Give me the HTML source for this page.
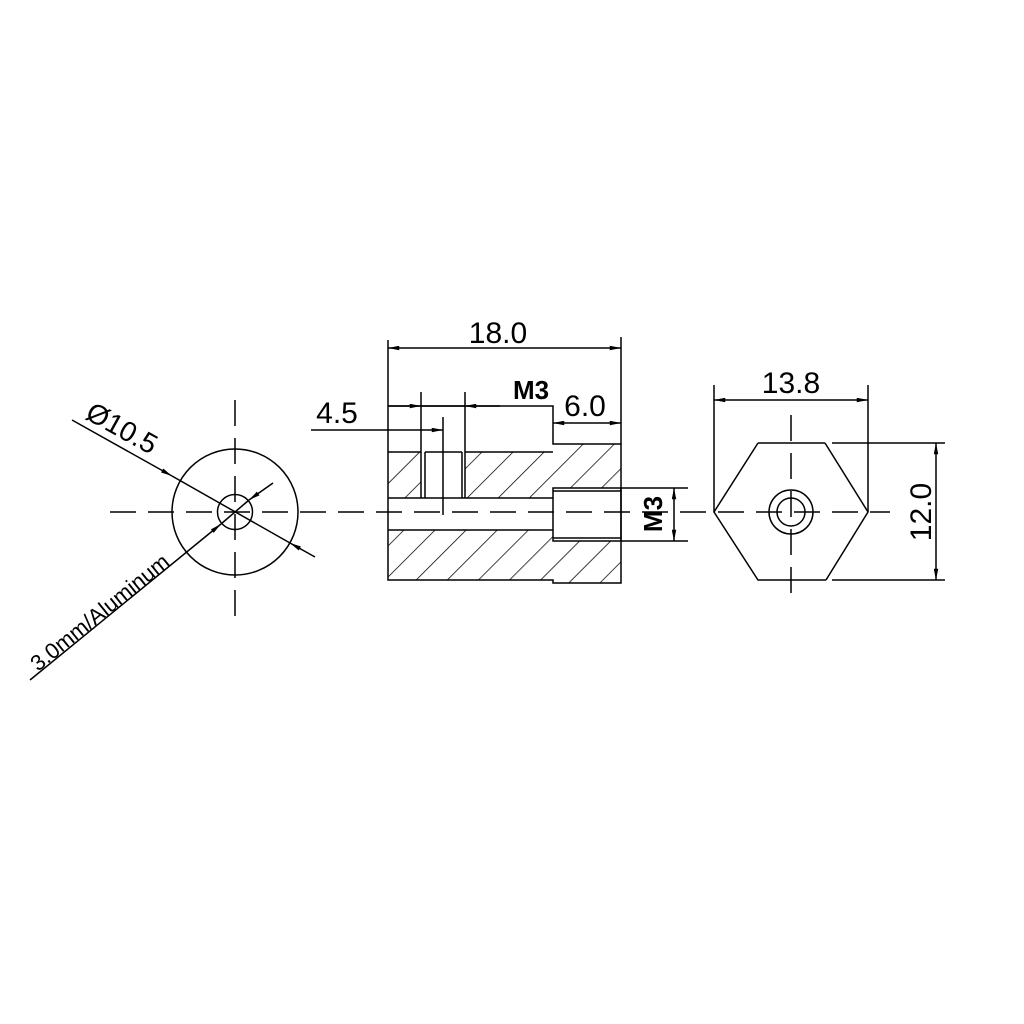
<!DOCTYPE html>
<html><head><style>html,body{margin:0;padding:0;background:#fff}svg{display:block}</style></head>
<body>
<svg width="1024" height="1024" viewBox="0 0 1024 1024" xmlns="http://www.w3.org/2000/svg" font-family="Liberation Sans, DejaVu Sans, sans-serif">
<defs>
<pattern id="h" patternUnits="userSpaceOnUse" width="22" height="22" patternTransform="rotate(45)">
<line x1="0" y1="0" x2="0" y2="22" stroke="#000" stroke-width="1.5"/>
</pattern>
<marker id="a" viewBox="0 0 10 4" refX="10" refY="2" markerWidth="12" markerHeight="4.5" orient="auto" markerUnits="userSpaceOnUse"><path d="M0,0L10,2L0,4z" fill="#000"/></marker>
</defs>
<g stroke="#000" stroke-width="1.5" fill="none">
<line x1="110" y1="512" x2="890" y2="512" stroke-dasharray="26,12"/>
<circle cx="235" cy="512" r="63"/>
<circle cx="235" cy="512" r="17.5"/>
<line x1="235" y1="400" x2="235" y2="622" stroke-dasharray="26,12"/>
<line x1="72" y1="420" x2="172" y2="476" marker-end="url(#a)"/>
<line x1="172" y1="476" x2="290" y2="543"/>
<line x1="315" y1="557" x2="290" y2="543" marker-end="url(#a)"/>
<line x1="30" y1="680" x2="221" y2="524" marker-end="url(#a)"/>
<line x1="221" y1="524" x2="249" y2="500"/>
<line x1="273" y1="483" x2="249" y2="500" marker-end="url(#a)"/>
<path d="M388,452H421V498H388Z M465,452H553V444H621V488H553V498H465Z M388,530H553V541H621V583H553V580H388Z" fill="url(#h)" stroke="none"/>
<path d="M388,340V580H553V583H621V444H553V406H388"/>
<line x1="621" y1="337" x2="621" y2="444"/>
<line x1="388" y1="452" x2="421" y2="452"/>
<line x1="465" y1="452" x2="553" y2="452"/>
<line x1="425" y1="452" x2="462" y2="452"/>
<line x1="388" y1="498" x2="553" y2="498"/>
<line x1="388" y1="530" x2="553" y2="530"/>
<rect x="553" y="488" width="68" height="53"/>
<line x1="553" y1="491" x2="621" y2="491"/>
<line x1="553" y1="538" x2="621" y2="538"/>
<line x1="421" y1="392" x2="421" y2="498"/>
<line x1="425" y1="452" x2="425" y2="498"/>
<line x1="462" y1="452" x2="462" y2="498"/>
<line x1="465" y1="392" x2="465" y2="498"/>
<line x1="443" y1="417" x2="443" y2="515"/>
<line x1="500" y1="348" x2="388" y2="348" marker-end="url(#a)"/>
<line x1="500" y1="348" x2="621" y2="348" marker-end="url(#a)"/>
<line x1="388" y1="406" x2="421" y2="406" marker-end="url(#a)"/>
<line x1="421" y1="406" x2="465" y2="406"/>
<line x1="500" y1="406" x2="465" y2="406" marker-end="url(#a)"/>
<line x1="311" y1="430" x2="443" y2="430" marker-end="url(#a)"/>
<line x1="587" y1="423" x2="553" y2="423" marker-end="url(#a)"/>
<line x1="587" y1="423" x2="621" y2="423" marker-end="url(#a)"/>
<line x1="621" y1="488" x2="688" y2="488"/>
<line x1="621" y1="541" x2="688" y2="541"/>
<line x1="674" y1="514" x2="674" y2="488" marker-end="url(#a)"/>
<line x1="674" y1="514" x2="674" y2="541" marker-end="url(#a)"/>
<path d="M758,443H825 M832,443H945 M758,443L714,512L758,580H826 M832,580H945 M825,443L868,512L826,580"/>
<line x1="714" y1="385" x2="714" y2="512"/>
<line x1="868" y1="385" x2="868" y2="512"/>
<line x1="791" y1="400" x2="714" y2="400" marker-end="url(#a)"/>
<line x1="791" y1="400" x2="868" y2="400" marker-end="url(#a)"/>
<line x1="936" y1="512" x2="936" y2="443" marker-end="url(#a)"/>
<line x1="936" y1="512" x2="936" y2="580" marker-end="url(#a)"/>
<circle cx="791" cy="512" r="22"/>
<circle cx="791" cy="512" r="14"/>
<line x1="791" y1="415" x2="791" y2="605" stroke-dasharray="26,12"/>
</g>
<g fill="#000" font-size="30">
<text x="498" y="343" text-anchor="middle">18.0</text>
<text x="337" y="423" text-anchor="middle">4.5</text>
<text x="531" y="399" text-anchor="middle" font-weight="bold" font-size="26">M3</text>
<text x="585" y="416" text-anchor="middle">6.0</text>
<text x="791" y="393" text-anchor="middle">13.8</text>
<text transform="translate(931,512) rotate(-90)" text-anchor="middle">12.0</text>
<text transform="translate(662,514) rotate(-90)" text-anchor="middle" font-weight="bold" font-size="26">M3</text>
<text transform="translate(84,418) rotate(29)" font-size="28">Ø10.5</text>
<text transform="translate(38,672) rotate(-39)" font-size="22">3.0mm/Aluminum</text>
</g>
</svg>
</body></html>
